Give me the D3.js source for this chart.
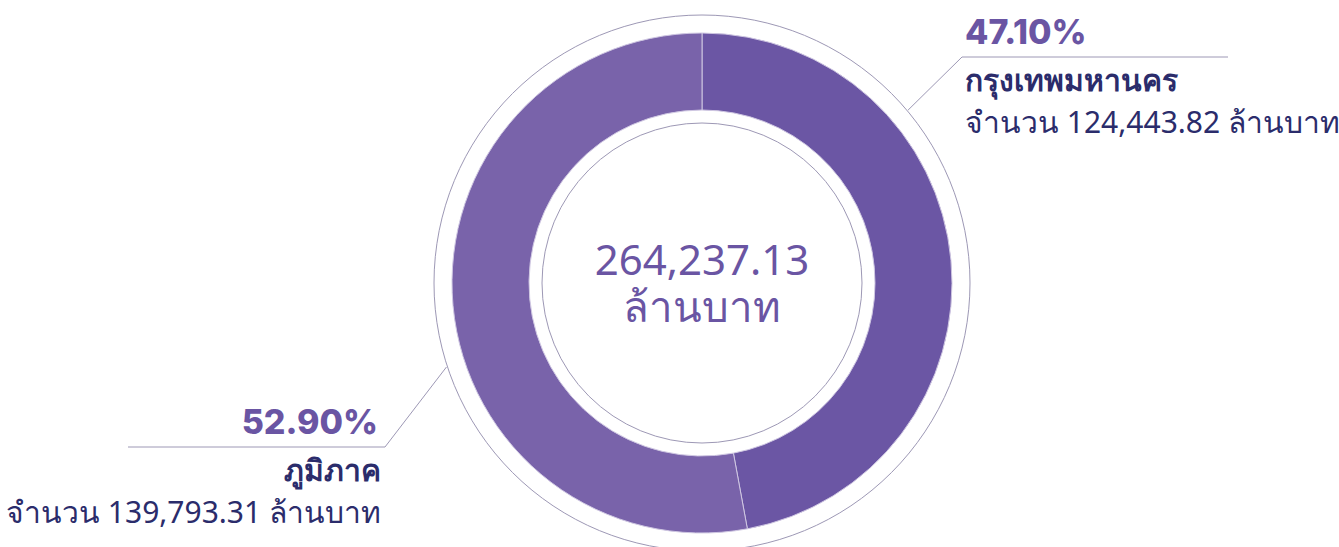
<!DOCTYPE html>
<html>
<head>
<meta charset="utf-8">
<script src="https://cdn.jsdelivr.net/npm/d3@7"></script>
<style>
  body { margin: 0; background: #fff; }
  svg { display: block; }
  .pct { font-family: Inter, "Noto Sans", sans-serif; font-weight: 800; fill: #6a55a3; }
  .name { font-family: "Noto Sans", sans-serif; font-weight: 700; fill: #2b2c6b; }
  .amt { font-family: "Noto Sans", sans-serif; font-weight: 400; fill: #2b2c6b; }
  .total { font-family: "Noto Sans", sans-serif; fill: #6a55a3; }
</style>
</head>
<body>
<div id="graph"></div>
<script>
// data
var regions = ["กรุงเทพมหานคร", "ภูมิภาค"];
var amounts = [124443.82, 139793.31];
var colors = ["#6b56a4", "#7963aa"];
var unit = "ล้านบาท";
var prefix = "จำนวน ";

var width = 1339, height = 547;
var cx = 702, cy = 283;
var r = 250, r0 = 173;

var svg = d3.select("#graph")
  .append("svg")
  .attr("width", width)
  .attr("height", height);

var g = svg.append("g")
  .attr("transform", "translate(" + cx + "," + cy + ")");

var total = d3.sum(amounts);
var fmt = d3.format(",.2f");

// thin rings
g.append("circle").attr("r", 268).attr("fill", "none").attr("stroke", "#9d98b5").attr("stroke-width", 1);
g.append("circle").attr("r", 160).attr("fill", "none").attr("stroke", "#9d98b5").attr("stroke-width", 1);

var pie = d3.pie().sort(null).value(function(d) { return d; });
var arc = d3.arc().innerRadius(r0).outerRadius(r);

g.selectAll("path.slice")
  .data(pie(amounts))
  .enter()
  .append("path")
  .attr("class", "slice")
  .attr("d", arc)
  .attr("fill", function(d, i) { return colors[i]; })
  .attr("stroke", "#cfc7e2")
  .attr("stroke-width", 1);

// center label
var center = g.append("text")
  .attr("class", "total")
  .attr("text-anchor", "middle")
  .style("font-size", "42px");
center.append("tspan").attr("x", 0).attr("y", -8).text(fmt(total));
center.append("tspan").attr("x", 0).attr("y", 39).text(unit);

// leader lines and labels
var labels = [
  { angle: 50, elbow: [962, 57], end: 1228, x: 965, anchor: "start" },
  { angle: 251.8, elbow: [385, 447], end: 128, x: 381, anchor: "end" }
];

labels.forEach(function(l, i) {
  var a = l.angle * Math.PI / 180;
  var sx = cx + 269 * Math.sin(a), sy = cy - 269 * Math.cos(a);
  svg.append("polyline")
    .attr("points", [[sx, sy], l.elbow, [l.end, l.elbow[1]]].map(function(p) { return p.join(","); }).join(" "))
    .attr("fill", "none")
    .attr("stroke", "#9d98b5")
    .attr("stroke-width", 1);

  var y = l.elbow[1];
  svg.append("text")
    .attr("class", "pct")
    .attr("x", l.anchor == "end" ? l.x - 3 : l.x)
    .attr("y", y - 13)
    .attr("text-anchor", l.anchor)
    .style("font-size", "34px")
    .text((amounts[i] / total * 100).toFixed(2) + "%");
  svg.append("text")
    .attr("class", "name")
    .attr("x", l.x)
    .attr("y", y + 34)
    .attr("text-anchor", l.anchor)
    .style("font-size", "30px")
    .text(regions[i]);
  svg.append("text")
    .attr("class", "amt")
    .attr("x", l.x)
    .attr("y", y + 76)
    .attr("text-anchor", l.anchor)
    .style("font-size", "30px")
    .text(prefix + fmt(amounts[i]) + " " + unit);
});
</script>
</body>
</html>
